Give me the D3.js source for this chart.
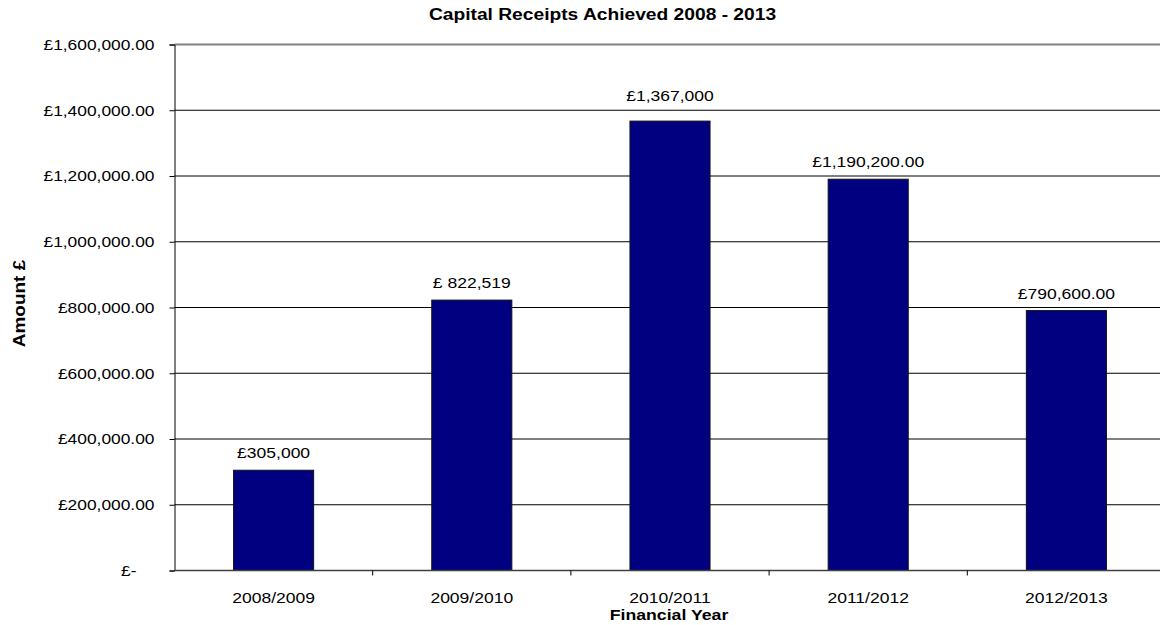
<!DOCTYPE html>
<html lang="en">
<head>
<meta charset="utf-8">
<title>Capital Receipts</title>
<script src="https://cdn.jsdelivr.net/npm/d3@7"></script>
<style>
  body { margin: 0; background: #fff; font-family: "Liberation Sans", Arial, sans-serif; }
  text { font-family: "Liberation Sans", Arial, sans-serif; fill: #000; }
</style>
</head>
<body>
<script>
var years = ["2008/2009", "2009/2010", "2010/2011", "2011/2012", "2012/2013"];
var receipts = [305000, 822519, 1367000, 1190200, 790600];
var valueLabels = ["£305,000", "£ 822,519", "£1,367,000", "£1,190,200.00", "£790,600.00"];
var yTicks = [0, 200000, 400000, 600000, 800000, 1000000, 1200000, 1400000, 1600000];

var w = 1160, h = 625;
var plotLeft = 174.5, plotRight = 1165.5, plotTop = 44.5, plotBottom = 570.5;

// the original's text is a little wider than Liberation Sans, so stretch it
function stretch(sel, k) {
  sel.each(function() {
    var len = this.getComputedTextLength();
    d3.select(this).attr("textLength", len * k).attr("lengthAdjust", "spacingAndGlyphs");
  });
}

var svg = d3.select("body").append("svg")
    .attr("width", w)
    .attr("height", h);

var x = d3.scaleBand().domain(years).range([plotLeft, plotRight]).padding(0);
var y = d3.scaleLinear().domain([0, 1600000]).range([plotBottom, plotTop]);

// gridlines
svg.append("g")
  .selectAll("line")
  .data(yTicks.slice(1))
  .enter().append("line")
  .attr("x1", plotLeft).attr("x2", plotRight)
  .attr("y1", function(d) { return y(d); })
  .attr("y2", function(d) { return y(d); })
  .attr("stroke", function(d) { return d === 1600000 ? "#808080" : "#000"; })
  .attr("stroke-width", function(d) { return d === 1600000 ? 2 : 1; });

// bars
var barW = x.bandwidth() * 0.404;
svg.append("g")
  .selectAll("rect")
  .data(receipts)
  .enter().append("rect")
  .attr("x", function(d, i) { return x(years[i]) + (x.bandwidth() - barW) / 2; })
  .attr("y", function(d) { return y(d); })
  .attr("width", barW)
  .attr("height", function(d) { return y(0) - y(d); })
  .attr("fill", "#000080")
  .attr("stroke", "#111")
  .attr("stroke-width", 1);

// value labels, pushed above a gridline if they would sit on it
function labelY(d) {
  var base = y(d) - 12;
  yTicks.forEach(function(t) {
    var gy = y(t);
    if (gy > base - 11 && gy < base + 2) base = gy - 9;
  });
  return base;
}
svg.append("g")
  .selectAll("text")
  .data(receipts)
  .enter().append("text")
  .attr("x", function(d, i) { return x(years[i]) + x.bandwidth() / 2; })
  .attr("y", labelY)
  .attr("text-anchor", "middle")
  .attr("font-size", "15.5px")
  .text(function(d, i) { return valueLabels[i]; })
  .call(stretch, 1.13);

// y axis
var fmt = d3.format(",.2f");
svg.append("g")
  .attr("transform", "translate(" + plotLeft + ",0)")
  .call(d3.axisLeft(y).tickValues(yTicks).tickSize(5).tickPadding(15)
    .tickFormat(function(d) { return d === 0 ? "£-" : "£" + fmt(d); }))
  .call(function(g) {
    g.attr("font-family", null).attr("font-size", null);
    g.select(".domain").attr("stroke", "#000");
    g.selectAll(".tick line").attr("stroke", "#000");
    g.selectAll(".tick text").attr("font-size", "15.5px")
      .attr("dx", function(d) { return d === 0 ? -18 : 0; })
      .call(stretch, 1.12);
  });

// x axis
var xAxis = svg.append("g")
  .attr("transform", "translate(0," + plotBottom + ")");
xAxis.append("line")
  .attr("x1", plotLeft).attr("x2", plotRight)
  .attr("stroke", "#404040").attr("stroke-width", 1.5);
xAxis.selectAll("line.tk")
  .data(years.slice(1))
  .enter().append("line")
  .attr("class", "tk")
  .attr("x1", function(d) { return x(d); })
  .attr("x2", function(d) { return x(d); })
  .attr("y1", 0).attr("y2", 5)
  .attr("stroke", "#000");
xAxis.selectAll("text")
  .data(years)
  .enter().append("text")
  .attr("x", function(d) { return x(d) + x.bandwidth() / 2; })
  .attr("y", 32)
  .attr("text-anchor", "middle")
  .attr("font-size", "15.5px")
  .text(function(d) { return d; })
  .call(stretch, 1.13);

// titles
svg.append("text")
  .attr("x", 602.5).attr("y", 20)
  .attr("text-anchor", "middle")
  .attr("font-size", "16px").attr("font-weight", "bold")
  .text("Capital Receipts Achieved 2008 - 2013")
  .call(stretch, 1.2);

svg.append("text")
  .attr("x", 669).attr("y", 619.5)
  .attr("text-anchor", "middle")
  .attr("font-size", "15.5px").attr("font-weight", "bold")
  .text("Financial Year")
  .call(stretch, 1.14);

svg.append("text")
  .attr("transform", "translate(25,303.5) rotate(-90)")
  .attr("text-anchor", "middle")
  .attr("font-size", "16.5px").attr("font-weight", "bold")
  .text("Amount £")
  .call(stretch, 1.15);
</script>
</body>
</html>
